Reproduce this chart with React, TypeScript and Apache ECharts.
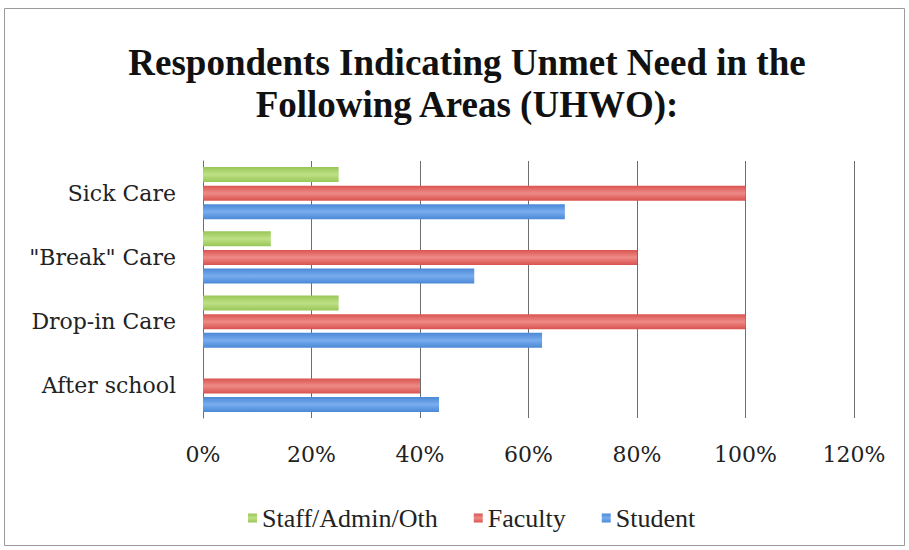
import React, { useEffect, useRef } from "react";
import * as echarts from "echarts";

const categories = ["After school", "Drop-in Care", '"Break" Care', "Sick Care"];
const staffValues = [0, 0.25, 0.125, 0.25];
const facultyValues = [0.4, 1.0, 0.8, 1.0];
const studentValues = [0.435, 0.625, 0.5, 0.667];
const legendNames = ["Staff/Admin/Oth", "Faculty", "Student"];
const titleText = "Respondents Indicating Unmet Need in the\nFollowing Areas (UHWO):";

const grad = (edge: string, mid: string) =>
  new echarts.graphic.LinearGradient(0, 0, 0, 1, [
    { offset: 0, color: edge },
    { offset: 0.5, color: mid },
    { offset: 1, color: edge },
  ]);

export default function App() {
  const ref = useRef<HTMLDivElement>(null);
  useEffect(() => {
    if (!ref.current) return;
    const chart = echarts.init(ref.current, null, { renderer: "svg" });
    const serif = "DejaVu Serif";
    chart.setOption({
      animation: false,
      backgroundColor: "#ffffff",
      title: {
        text: titleText,
        left: 462,
        textAlign: "center",
        top: 36,
        textStyle: {
          fontFamily: "Liberation Serif",
          fontWeight: "bold",
          fontSize: 37,
          lineHeight: 42,
          color: "#111",
        },
      },
      graphic: [
        {
          type: "rect",
          shape: { x: 4.5, y: 8.5, width: 900, height: 537 },
          style: { fill: "none", stroke: "#9a9a9a", lineWidth: 1 },
          silent: true,
        },
      ],
      legend: {
        data: legendNames,
        left: 243,
        top: 500,
        itemWidth: 9,
        itemHeight: 9,
        itemGap: 36,
        icon: "rect",
        textStyle: { fontFamily: "Liberation Serif", fontSize: 26, color: "#222" },
      },
      grid: { left: 203, right: 55, top: 161, bottom: 132, containLabel: false },
      xAxis: {
        type: "value",
        min: 0,
        max: 1.2,
        interval: 0.2,
        axisLine: { show: false },
        axisTick: { show: false },
        splitLine: { show: true, lineStyle: { color: "#6e6e6e", width: 1 } },
        axisLabel: {
          margin: 25,
          fontFamily: serif,
          fontSize: 22,
          color: "#222",
          formatter: (v: number) => Math.round(v * 100) + "%",
        },
      },
      yAxis: {
        type: "category",
        data: categories,
        axisLine: { show: true, lineStyle: { color: "#6e6e6e" } },
        axisTick: { show: false },
        axisLabel: { margin: 27, fontFamily: serif, fontSize: 22, color: "#222" },
      },
      series: [
        {
          name: "Staff/Admin/Oth",
          type: "bar",
          data: staffValues,
          barWidth: 15,
          barGap: "24%",
          itemStyle: { color: grad("#98c657", "#bfe085") },
        },
        {
          name: "Faculty",
          type: "bar",
          data: facultyValues,
          barWidth: 15,
          barGap: "24%",
          itemStyle: { color: grad("#d9534f", "#ee8a86") },
        },
        {
          name: "Student",
          type: "bar",
          data: studentValues,
          barWidth: 15,
          barGap: "24%",
          itemStyle: { color: grad("#4a88d6", "#78adef") },
        },
      ],
    });
    return () => chart.dispose();
  }, []);
  return <div ref={ref} style={{ width: 909, height: 550, position: "absolute", left: 0, top: 0 }} />;
}
